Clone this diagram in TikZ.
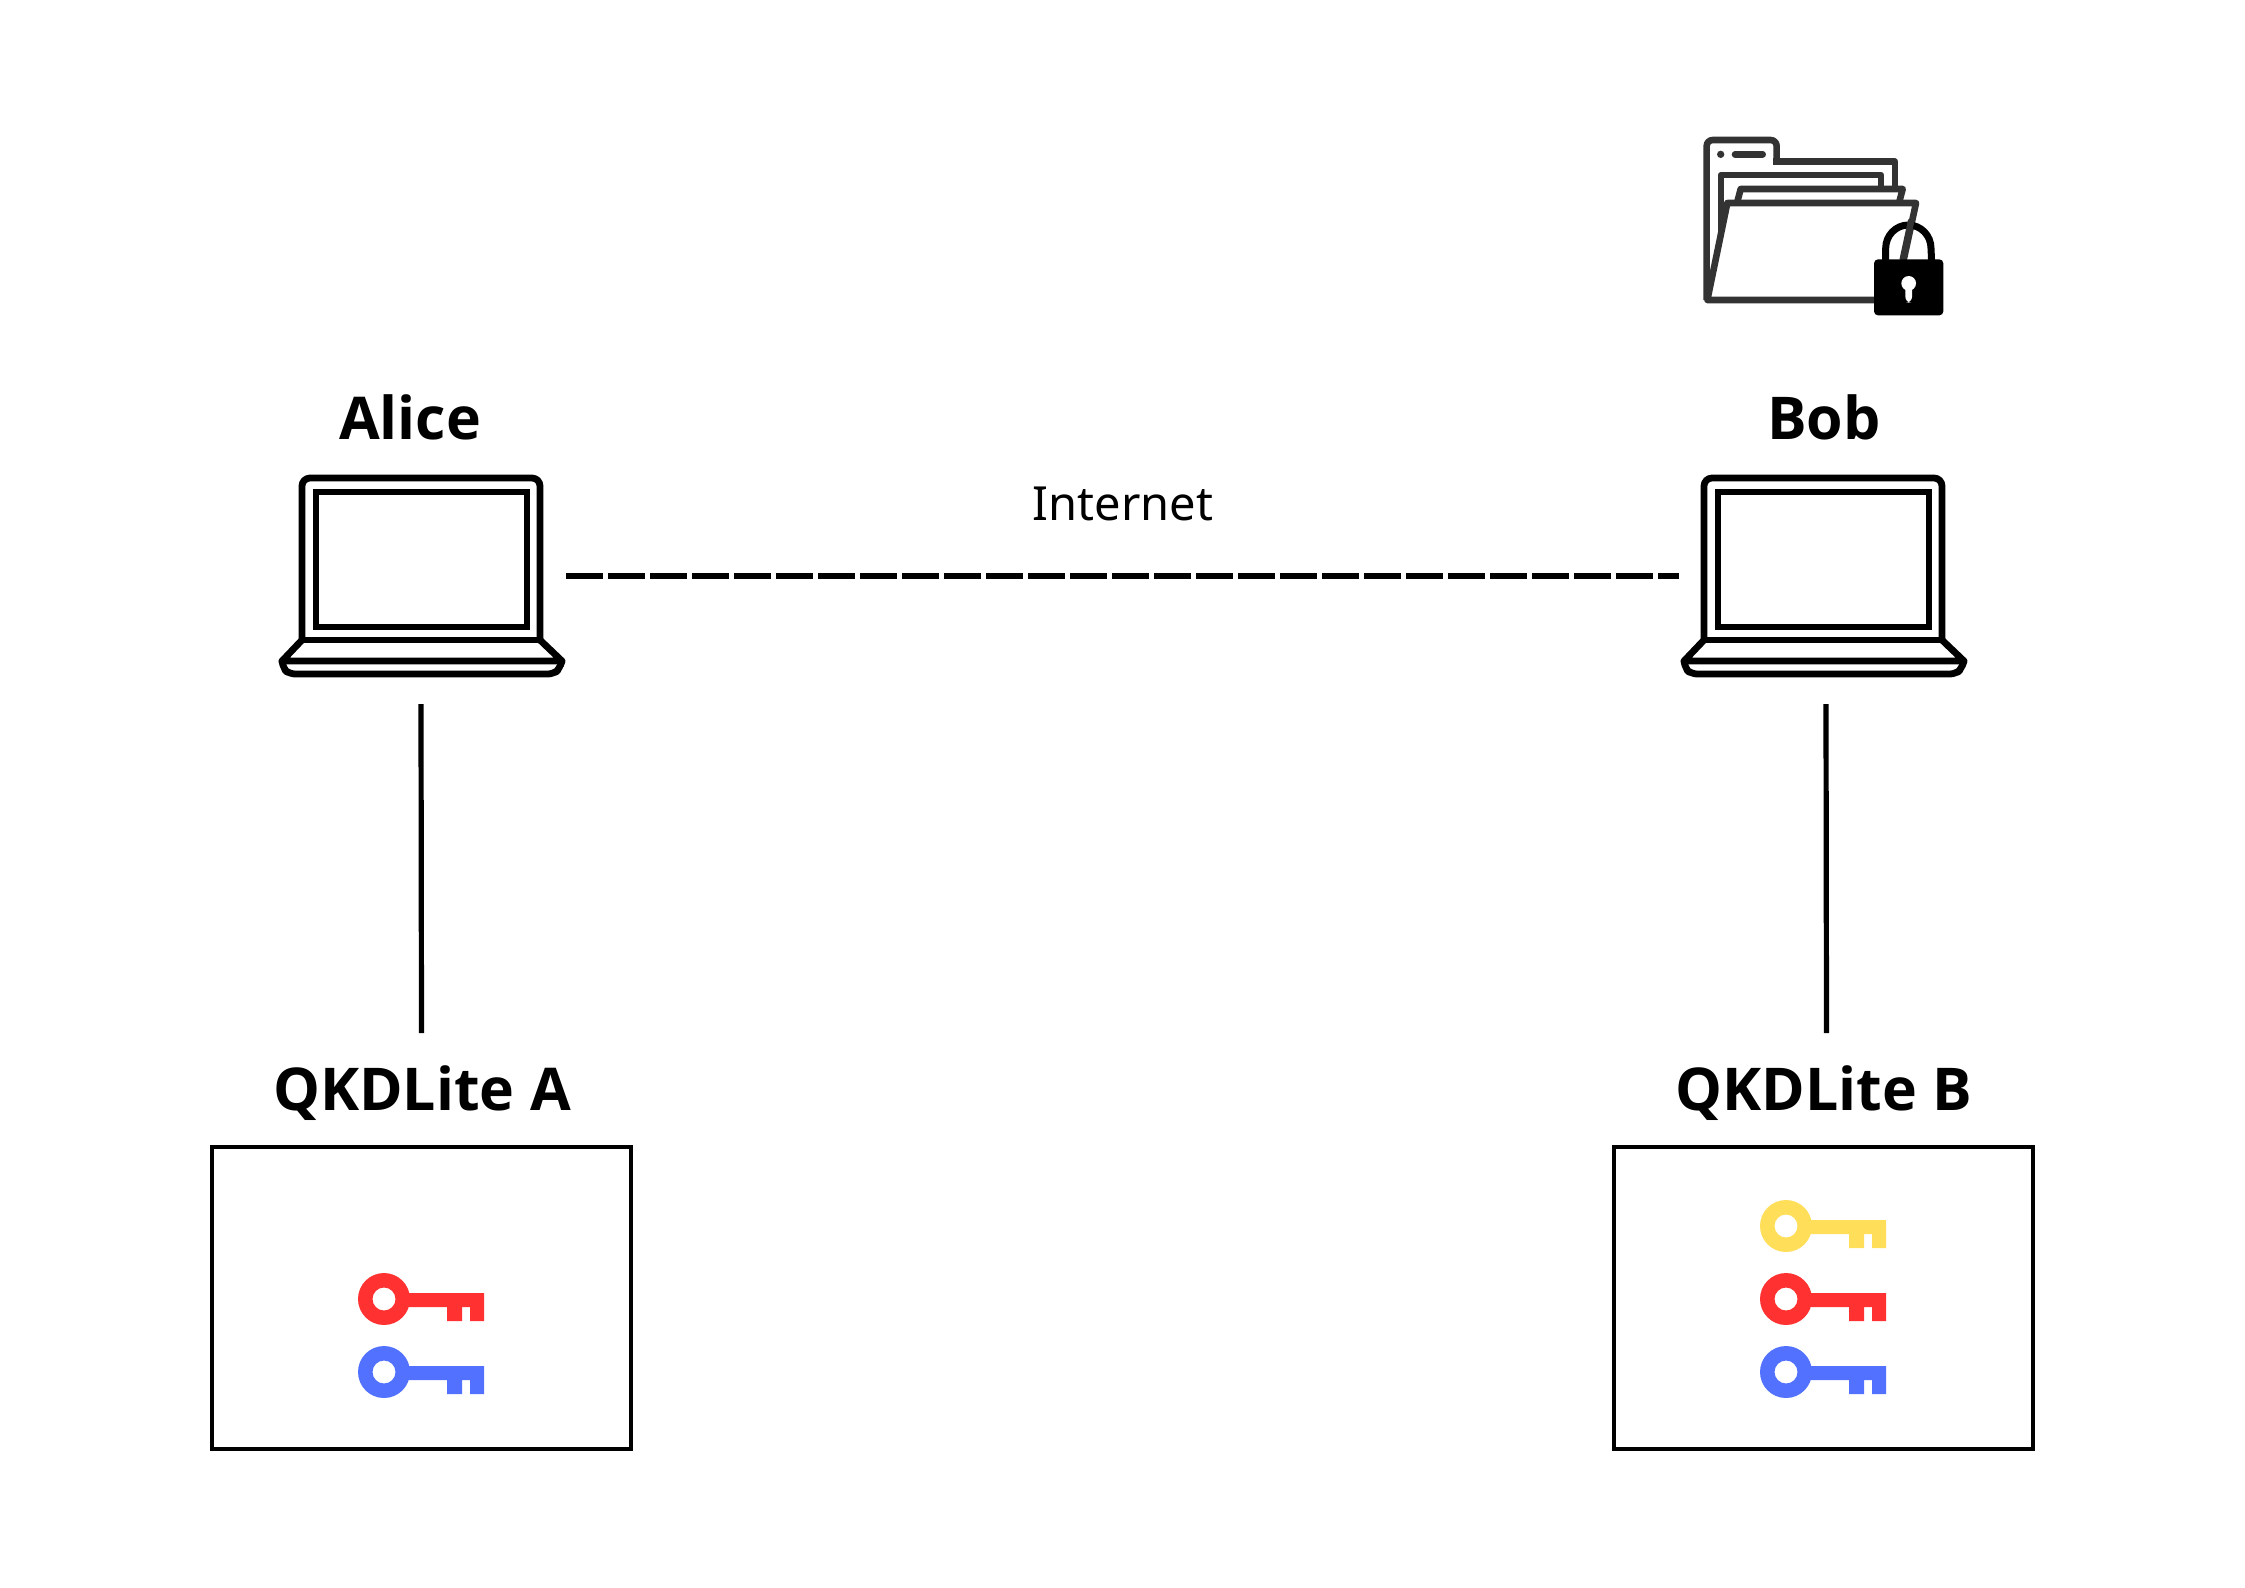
\documentclass[tikz,border=0pt]{standalone}
\usepackage{fontspec}
\setmainfont{Noto Sans}
\newfontfamily\boldlabel{Open Sans Bold}
\definecolor{keyred}{HTML}{FF3131}
\definecolor{keyblue}{HTML}{5271FF}
\definecolor{keyyellow}{HTML}{FFDE59}
\definecolor{folderink}{HTML}{333333}
\tikzset{
  name label/.style={font=\boldlabel\fontsize{29.5pt}{32pt}\selectfont,inner sep=0pt,anchor=base},
  net label/.style={font=\fontsize{23.5pt}{26pt}\selectfont,inner sep=0pt,anchor=base},
  lap/.style={draw=none,minimum width=148pt,minimum height=104pt,inner sep=0pt,outer sep=0pt},
  qkdbox/.style={draw,line width=2.1pt,minimum width=209.5pt,minimum height=151pt,inner sep=0pt,outer sep=0pt},
  conn/.style={line width=2.6pt},
  dashconn/.style={line width=3.2pt,dash pattern=on 18.3pt off 2.7pt},
  laptopline/.style={line width=3.4pt,line join=round},
  folderline/.style={draw=folderink,line width=3.3pt,line join=round}
}
\newcommand{\drawlaptop}[1]{%
  \begin{scope}[shift={(#1,0)}]
    \draw[laptopline,rounded corners=4pt] (302,640) -- (302,478) -- (540,478) -- (540,640);
    \draw[laptopline,line join=miter] (316,492) rectangle (527,627);
    \draw[laptopline] (302,640) -- (540,640);
    \draw[laptopline] (302,640) -- (282,661) -- (562,661) -- (540,640);
    \draw[laptopline,rounded corners=3pt] (282,661) -- (283,668) -- (289,674) -- (554,674) -- (560,668) -- (562,661);
  \end{scope}}
\newcommand{\drawkey}[3]{%
  \begin{scope}[shift={(#1,#2)}]
    \fill[#3,even odd rule] (0,0) circle (26) (0,0) circle (11.5);
    \fill[#3] (20,-6) -- (100,-6) -- (100,22) -- (86,22) -- (86,8) -- (78,8) -- (78,22) -- (63,22) -- (63,8) -- (20,8) -- cycle;
  \end{scope}}
\begin{document}
\begin{tikzpicture}[x=0.5pt,y=-0.5pt]
\useasboundingbox[fill=white] (0,0) rectangle (2245,1587);
% laptops
\node[lap] (aliceLap) at (421,576) {};
\node[lap] (bobLap) at (1823,576) {};
\drawlaptop{0}
\drawlaptop{1402}
% boxes
\node[qkdbox] (qkdA) at (421.5,1298) {};
\node[qkdbox] (qkdB) at (1823.5,1298) {};
% labels
\node[name label] (alice) at (410,439) {Alice};
\node[name label] (bob) at (1824,439) {Bob};
\node[name label] (qa) at (422,1110) {QKDLite A};
\node[name label] (qb) at (1824,1110) {QKDLite B};
\node[net label] (net) at (1123,520) {Internet};
% connectors
\draw[dashconn] ([xshift=-1.5pt]aliceLap.east) -- ([xshift=2pt]bobLap.west);
\draw[conn] ([yshift=-12pt]aliceLap.south) -- ([yshift=57pt]qkdA.north);
\draw[conn] ([xshift=1.5pt,yshift=-12pt]bobLap.south) -- ([xshift=1.5pt,yshift=57pt]qkdB.north);
% keys
\drawkey{384}{1299}{keyred}
\drawkey{384}{1372}{keyblue}
\drawkey{1786}{1226}{keyyellow}
\drawkey{1786}{1299}{keyred}
\drawkey{1786}{1372}{keyblue}
% folder
\begin{scope}[shift={(1680,120)},x=0.16667pt,y=-0.16667pt]
  \draw[folderline,rounded corners=3pt] (80,540) -- (80,60) -- (290,60) -- (290,125);
  \draw[folderline,line cap=rect] (290,125) -- (645,125) -- (645,205);
  \draw[folderline] (123,350) -- (123,165) -- (603,165) -- (603,205);
  \fill[white] (172,245) -- (182,207) -- (668,207) -- (658,245) -- cycle;
  \draw[folderline] (172,245) -- (182,207) -- (668,207) -- (658,245);
  \draw[folderline,fill=white] (82,540) -- (142,249) -- (708,249) -- (645,540) -- cycle;
  \fill[folderink] (122,103) circle (11);
  \draw[folderink,line width=3.3pt,line cap=round] (165,103) -- (248,103);
  % padlock
  \draw[line width=3.5pt] (617,430) -- (617,385) arc[start angle=180,end angle=0,x radius=68,y radius=-70] -- (755,430);
  \draw[folderink,line width=3.3pt] (694,300) -- (668,420);
  \fill[rounded corners=2pt] (582,418) rectangle (790,586);
  \fill[white] (686,490) circle (22);
  \fill[white,rounded corners=3pt] (676,490) rectangle (696,548);
\end{scope}
\end{tikzpicture}
\end{document}
